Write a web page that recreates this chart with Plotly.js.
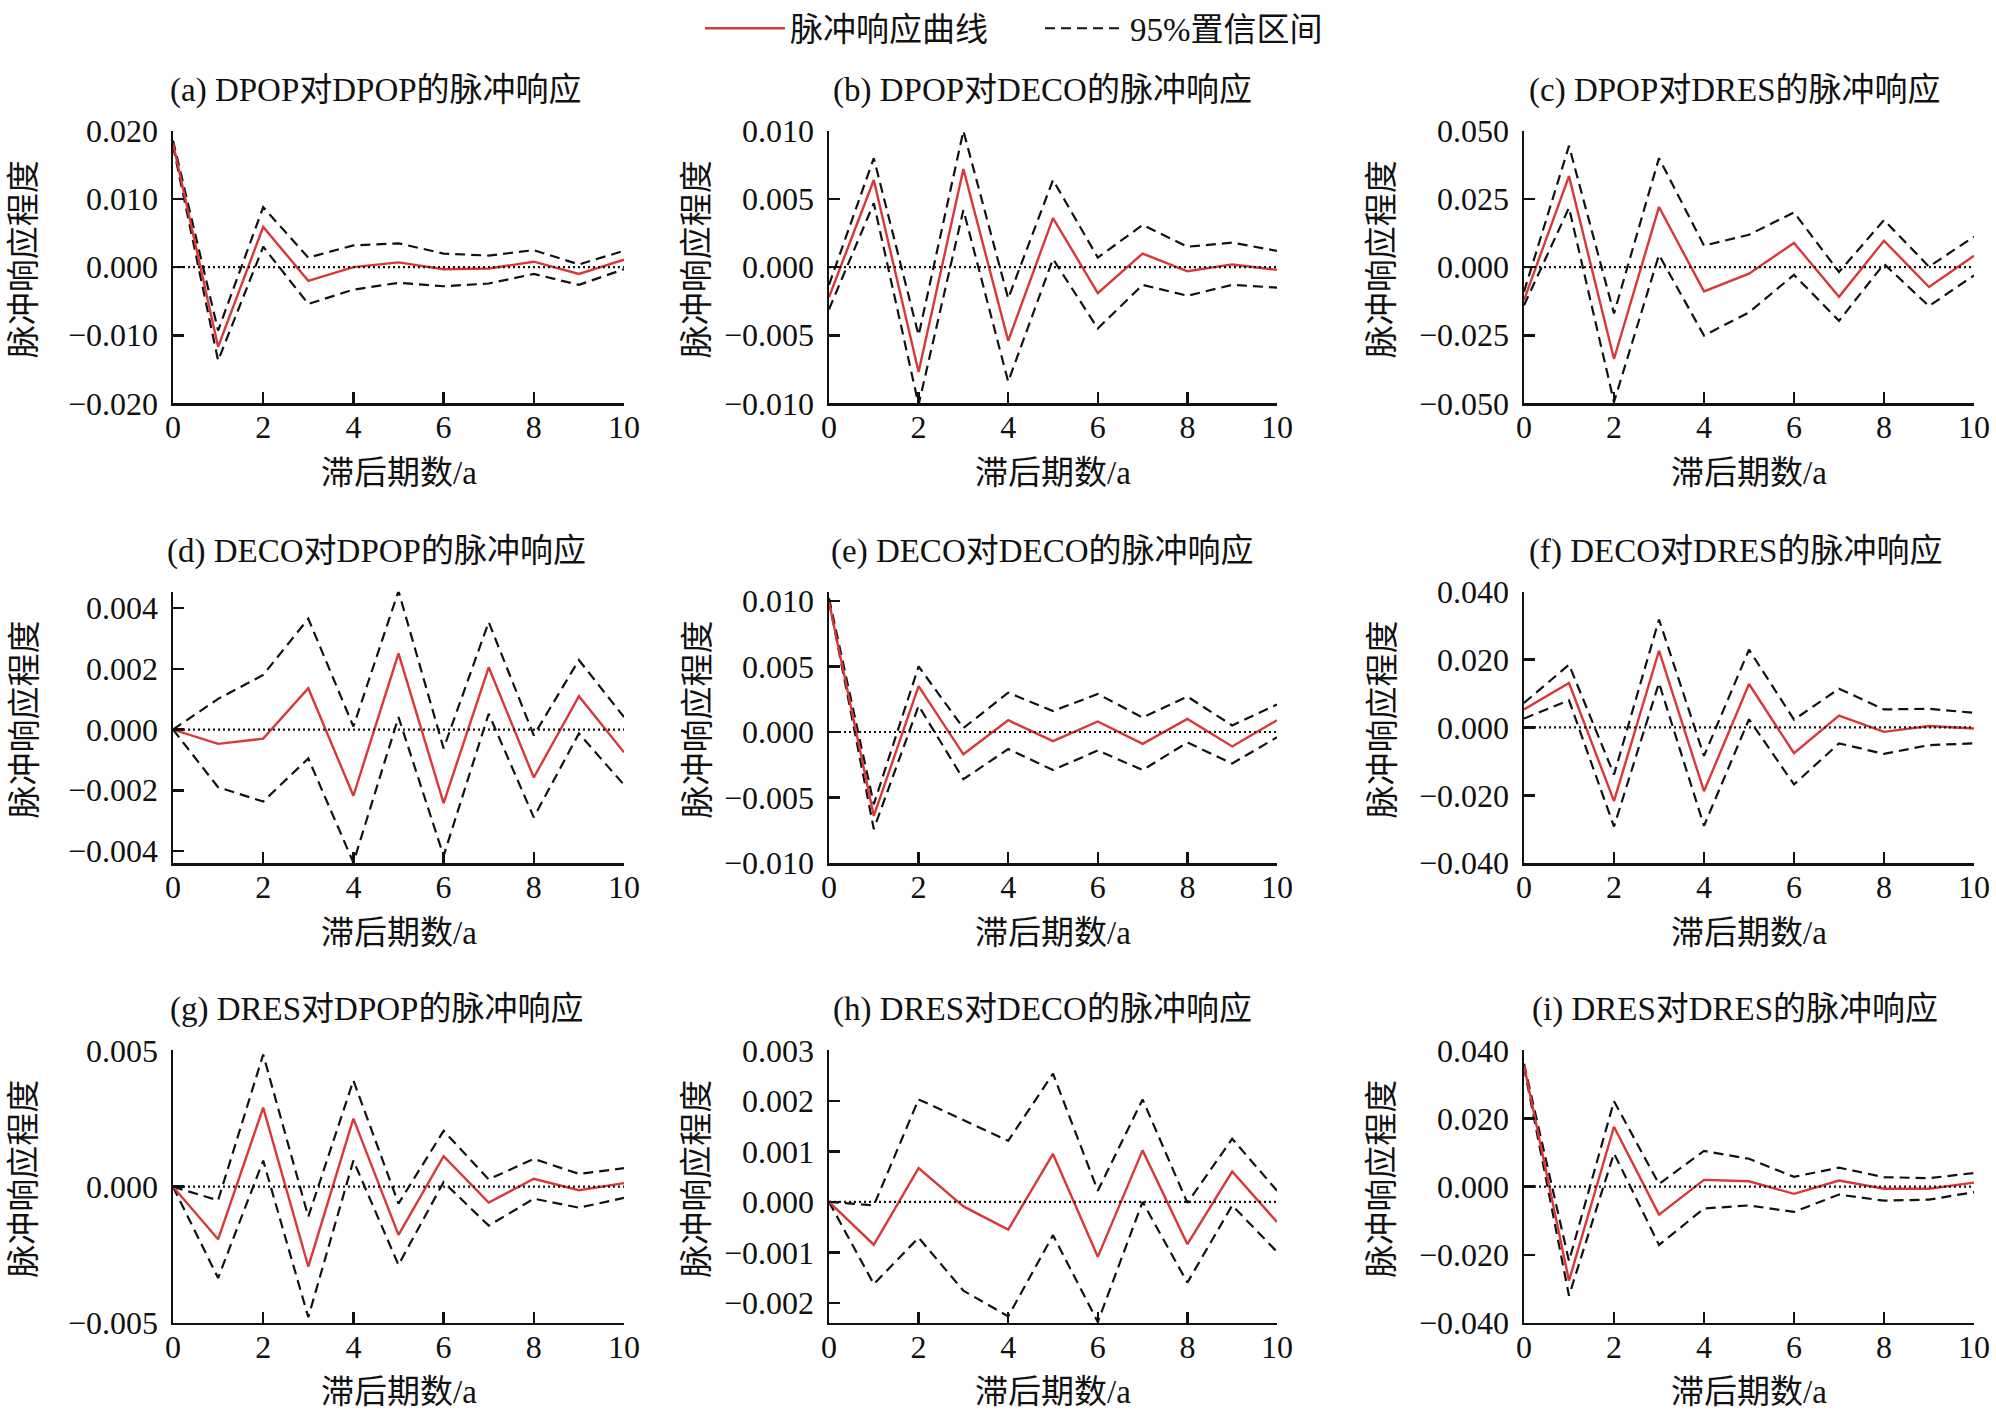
<!DOCTYPE html>
<html>
<head>
<meta charset="utf-8">
<script src="https://cdn.plot.ly/plotly-3.0.1.min.js"></script>
<style>
  body { margin: 0; background: #fff; }
  #chart { width: 1996px; height: 1426px; }
</style>
</head>
<body>
<div id="chart"></div>
<script>
const lags = [0, 1, 2, 3, 4, 5, 6, 7, 8, 9, 10];

// (a) DPOP -> DPOP
const irfA = [0.0182, -0.0117, 0.0059, -0.0020, 0.0000, 0.0007, -0.0003, -0.0002, 0.0008, -0.0010, 0.0011];
const upA  = [0.0186, -0.0093, 0.0088, 0.0014, 0.0032, 0.0035, 0.0020, 0.0017, 0.0025, 0.0004, 0.0024];
const loA  = [0.0178, -0.0137, 0.0030, -0.0054, -0.0033, -0.0023, -0.0028, -0.0024, -0.0010, -0.0026, -0.0003];
// (b) DPOP -> DECO
const irfB = [-0.0022, 0.0064, -0.0077, 0.0072, -0.0054, 0.0036, -0.0019, 0.0010, -0.0003, 0.0002, -0.0002];
const upB  = [-0.0013, 0.0080, -0.0050, 0.0100, -0.0023, 0.0064, 0.0007, 0.0031, 0.0015, 0.0018, 0.0012];
const loB  = [-0.0031, 0.0047, -0.0101, 0.0042, -0.0084, 0.0006, -0.0045, -0.0013, -0.0021, -0.0013, -0.0015];
// (c) DPOP -> DRES
const irfC = [-0.0121, 0.0334, -0.0337, 0.0221, -0.0089, -0.0024, 0.0089, -0.0109, 0.0097, -0.0073, 0.0042];
const upC  = [-0.0090, 0.0445, -0.0170, 0.0400, 0.0079, 0.0119, 0.0201, -0.0018, 0.0173, 0.0002, 0.0112];
const loC  = [-0.0140, 0.0218, -0.0495, 0.0045, -0.0251, -0.0166, -0.0028, -0.0197, 0.0012, -0.0143, -0.0030];
// (d) DECO -> DPOP
const irfD = [0, -0.00047, -0.0003, 0.00136, -0.00218, 0.00251, -0.00242, 0.00205, -0.00158, 0.0011, -0.00075];
const upD  = [0, 0.00101, 0.0018, 0.00365, 0.0001, 0.00456, -0.00062, 0.00354, -0.00019, 0.00229, 0.00041];
const loD  = [0, -0.0019, -0.00237, -0.00095, -0.00438, 0.00041, -0.00416, 0.00052, -0.00289, -0.00013, -0.00182];
// (e) DECO -> DECO
const irfE = [0.0099, -0.0064, 0.0035, -0.0017, 0.0009, -0.0007, 0.0008, -0.0009, 0.0010, -0.0011, 0.0009];
const upE  = [0.0102, -0.0055, 0.0050, 0.0003, 0.0030, 0.0016, 0.0029, 0.0011, 0.0027, 0.0005, 0.0021];
const loE  = [0.0100, -0.0074, 0.0020, -0.0036, -0.0013, -0.0029, -0.0014, -0.0029, -0.0008, -0.0024, -0.0004];
// (f) DECO -> DRES
const irfF = [0.0053, 0.0131, -0.0217, 0.0226, -0.0188, 0.0128, -0.0076, 0.0035, -0.0013, 0.0004, -0.0003];
const upF  = [0.0072, 0.0185, -0.0139, 0.0318, -0.0084, 0.0229, 0.0023, 0.0114, 0.0053, 0.0055, 0.0043];
const loF  = [0.0026, 0.0080, -0.0292, 0.0131, -0.0290, 0.0024, -0.0168, -0.0047, -0.0078, -0.0052, -0.0047];
// (g) DRES -> DPOP
const irfG = [0, -0.00193, 0.0029, -0.00293, 0.0025, -0.00177, 0.00112, -0.00058, 0.00029, -0.00013, 0.00013];
const upG  = [0, -0.0005, 0.00485, -0.0011, 0.0039, -0.00062, 0.00205, 0.00027, 0.00102, 0.00047, 0.00068];
const loG  = [0, -0.00335, 0.00096, -0.00479, 0.00096, -0.00287, 0.00017, -0.00143, -0.00044, -0.00077, -0.00041];
// (h) DRES -> DECO
const irfH = [0, -0.00085, 0.00067, -0.00009, -0.00055, 0.00095, -0.00109, 0.00102, -0.00084, 0.0006, -0.0004];
const upH  = [0, -0.00007, 0.00203, 0.00162, 0.00121, 0.00254, 0.00022, 0.00203, -0.00002, 0.00125, 0.00022];
const loH  = [0, -0.00163, -0.00071, -0.00176, -0.00227, -0.00066, -0.00238, 0, -0.0016, -0.00007, -0.00099];
// (i) DRES -> DRES
const irfI = [0.0356, -0.0276, 0.0176, -0.0082, 0.0020, 0.0016, -0.0021, 0.0018, -0.0006, -0.0006, 0.0012];
const upI  = [0.0361, -0.0218, 0.0251, 0.0008, 0.0105, 0.0082, 0.0029, 0.0056, 0.0028, 0.0025, 0.0040];
const loI  = [0.0351, -0.0320, 0.0098, -0.0171, -0.0064, -0.0055, -0.0074, -0.0023, -0.0041, -0.0038, -0.0016];

const titles = [
  '(a) DPOP对DPOP的脉冲响应', '(b) DPOP对DECO的脉冲响应', '(c) DPOP对DRES的脉冲响应',
  '(d) DECO对DPOP的脉冲响应', '(e) DECO对DECO的脉冲响应', '(f) DECO对DRES的脉冲响应',
  '(g) DRES对DPOP的脉冲响应', '(h) DRES对DECO的脉冲响应', '(i) DRES对DRES的脉冲响应'
];
const xLabel = '滞后期数/a';
const yLabel = '脉冲响应程度';
const irfName = '脉冲响应曲线';
const ciName = '95%置信区间';

const series = [
  [irfA, upA, loA], [irfB, upB, loB], [irfC, upC, loC],
  [irfD, upD, loD], [irfE, upE, loE], [irfF, upF, loF],
  [irfG, upG, loG], [irfH, upH, loH], [irfI, upI, loI]
];

// axis settings per panel
const yAxes = [
  {range: [-0.02, 0.02], dtick: 0.01},
  {range: [-0.01, 0.01], dtick: 0.005},
  {range: [-0.05, 0.05], dtick: 0.025},
  {range: [-0.0044, 0.00454], dtick: 0.002},
  {range: [-0.01, 0.0107], dtick: 0.005},
  {range: [-0.04, 0.04], dtick: 0.02},
  {range: [-0.005, 0.005], dtick: 0.005},
  {range: [-0.0024, 0.003], dtick: 0.001},
  {range: [-0.04, 0.04], dtick: 0.02}
];

const W = 1996, H = 1426;
const px = x => x / W;
const py = y => 1 - y / H;

const cols = [[173, 624], [829, 1277], [1524, 1974]];
const rows = [[119, 394], [584, 858], [1047, 1322]];
const titleX = [376, 1042, 1735];
const yLabelX = [24, 697, 1382];

const FONT = '"Liberation Serif", "Times New Roman", "Noto Sans CJK SC", serif';
const RED = '#d8383a';

const data = [];
const layout = {
  width: W,
  height: H,
  margin: {l: 0, r: 0, t: 0, b: 0},
  paper_bgcolor: '#fff',
  plot_bgcolor: '#fff',
  font: {family: FONT, size: 32, color: '#111'},
  showlegend: true,
  legend: {
    orientation: 'h',
    x: px(700), xanchor: 'left',
    y: 1.009, yanchor: 'top',
    font: {size: 33, family: FONT},
    itemwidth: 80,
    entrywidth: 245,
    tracegroupgap: 0
  },
  annotations: [],
  shapes: []
};

series.forEach((s, i) => {
  const n = i === 0 ? '' : String(i + 1);
  const r = Math.floor(i / 3), c = i % 3;
  const xa = 'x' + n, ya = 'y' + n;

  data.push({
    x: lags, y: s[1], xaxis: xa, yaxis: ya, type: 'scatter', mode: 'lines',
    name: ciName, legendgroup: 'ci', legendrank: 2, showlegend: i === 0,
    line: {color: '#111', width: 2.2, dash: '10px,6px'}
  });
  data.push({
    x: lags, y: s[2], xaxis: xa, yaxis: ya, type: 'scatter', mode: 'lines',
    name: ciName, legendgroup: 'ci', showlegend: false,
    line: {color: '#111', width: 2.2, dash: '10px,6px'}
  });
  data.push({
    x: lags, y: s[0], xaxis: xa, yaxis: ya, type: 'scatter', mode: 'lines',
    name: irfName, legendrank: 1, showlegend: i === 0,
    line: {color: RED, width: 2.4}
  });

  layout['xaxis' + n] = {
    domain: [px(cols[c][0]), px(cols[c][1])],
    anchor: ya,
    range: [0, 10],
    dtick: 2,
    showgrid: false,
    zeroline: false,
    showline: true,
    linecolor: '#111',
    linewidth: 2.5,
    ticks: 'inside',
    ticklen: 11,
    tickwidth: 2.5,
    tickcolor: '#111',
    tickfont: {size: 32},
    ticklabelstandoff: -6
  };
  layout['yaxis' + n] = {
    domain: [py(rows[r][1]), py(rows[r][0])],
    anchor: xa,
    range: yAxes[i].range,
    dtick: yAxes[i].dtick,
    tick0: 0,
    tickformat: '.3f',
    showgrid: false,
    zeroline: false,
    showline: true,
    linecolor: '#111',
    linewidth: 2.5,
    ticks: 'inside',
    ticklen: 11,
    tickwidth: 2.5,
    tickcolor: '#111',
    tickfont: {size: 32},
    ticklabelstandoff: 6
  };

  // dotted zero reference line
  layout.shapes.push({
    type: 'line', xref: xa + ' domain', yref: ya,
    x0: 0, x1: 1, y0: 0, y1: 0,
    line: {color: '#111', width: 2.2, dash: '2px,3px'}
  });

  layout.annotations.push({
    text: titles[i], xref: 'paper', yref: 'paper',
    x: px(titleX[c]), y: py(rows[r][0] - 41), xanchor: 'center', yanchor: 'middle',
    showarrow: false, font: {size: 33}
  });
  layout.annotations.push({
    text: xLabel, xref: 'paper', yref: 'paper',
    x: px((cols[c][0] + cols[c][1]) / 2), y: py(rows[r][1] + 70), xanchor: 'center', yanchor: 'middle',
    showarrow: false, font: {size: 33}
  });
  layout.annotations.push({
    text: yLabel, xref: 'paper', yref: 'paper', textangle: -90,
    x: px(yLabelX[c]), y: py((rows[r][0] + rows[r][1]) / 2 - 8), xanchor: 'center', yanchor: 'middle',
    showarrow: false, font: {size: 33}
  });
});

Plotly.newPlot('chart', data, layout, {staticPlot: true});
</script>
</body>
</html>
